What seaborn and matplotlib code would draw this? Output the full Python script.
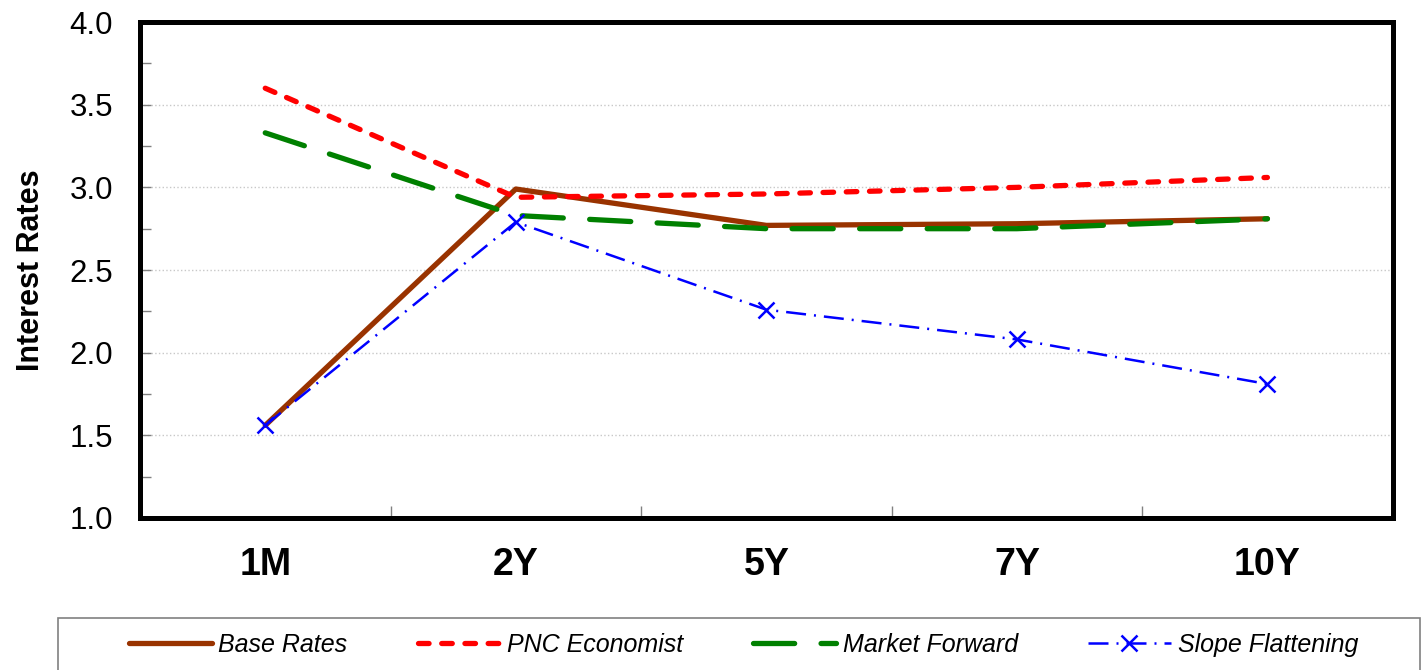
import matplotlib
matplotlib.use("Agg")
import matplotlib.pyplot as plt
from matplotlib.ticker import MultipleLocator, FixedLocator
from matplotlib.patches import Rectangle
import seaborn as sns

categories = ["1M", "2Y", "5Y", "7Y", "10Y"]
base_rates = [1.56, 2.99, 2.77, 2.78, 2.81]
pnc_economist = [3.60, 2.94, 2.96, 3.00, 3.06]
market_forward = [3.33, 2.83, 2.75, 2.75, 2.81]
slope_flattening = [1.56, 2.79, 2.26, 2.08, 1.81]

sns.set_style("white")
plt.rcParams["font.family"] = ["Liberation Sans", "DejaVu Sans"]
plt.rcParams["text.color"] = "black"
plt.rcParams["xtick.color"] = "black"
plt.rcParams["ytick.color"] = "black"
plt.rcParams["axes.labelcolor"] = "black"

fig = plt.figure(figsize=(14.24, 6.70), dpi=100)
ax = fig.add_axes([0.0983, 0.227, 0.8797, 0.740])

x = list(range(len(categories)))

sns.lineplot(x=x, y=base_rates, ax=ax, color="#993300", lw=3.8,
             solid_capstyle="round", label="Base Rates")
l2 = sns.lineplot(x=x, y=pnc_economist, ax=ax, color="#FF0000", lw=3.8,
                  label="PNC Economist").lines[-1]
l2.set_dashes([2.0, 2.4])
l2.set_dash_capstyle("round")
l3 = sns.lineplot(x=x, y=market_forward, ax=ax, color="#008000", lw=3.8,
                  label="Market Forward").lines[-1]
l3.set_dashes([7.8, 5.0])
l3.set_dash_capstyle("round")
l4 = sns.lineplot(x=x, y=slope_flattening, ax=ax, color="#0000FF", lw=1.8,
                  marker="x", markersize=11, markeredgewidth=1.8,
                  markeredgecolor="#0000FF",
                  label="Slope Flattening").lines[-1]
l4.set_dashes([8, 3.2, 0.8, 3.2])

ax.set_xlim(-0.5, 4.5)
ax.set_ylim(1.0, 4.0)
ax.yaxis.set_minor_locator(MultipleLocator(0.25))
yt = [1.0, 1.5, 2.0, 2.5, 3.0, 3.5, 4.0]
ax.set_yticks(yt)
ax.set_yticklabels([f"{v:.1f}" for v in yt])
ax.set_xticks(x)
ax.set_xticklabels(categories, fontsize=27, fontweight="bold")
ax.xaxis.set_minor_locator(FixedLocator([0.5, 1.5, 2.5, 3.5]))
ax.tick_params(axis="y", labelsize=22.5, direction="in", length=8, width=1,
               color="#808080", labelcolor="black", pad=19.5, left=True,
               which="both")
ax.tick_params(axis="x", which="major", length=0, pad=21, labelcolor="black")
ax.tick_params(axis="x", which="minor", direction="in", length=9, width=1,
               color="#808080", bottom=True)
ax.grid(axis="y", which="major", color="#c8c8c8", linestyle=":", linewidth=1)
ax.set_axisbelow(True)
for s in ax.spines.values():
    s.set_visible(True)
    s.set_color("black")
    s.set_linewidth(3.6)
ax.set_ylabel("Interest Rates", fontsize=22, fontweight="bold", labelpad=17,
              color="black")
ax.set_xlabel("")

handles, labels = ax.get_legend_handles_labels()
ax.get_legend().remove()

fig.patches.append(Rectangle((58 / 1424, -0.05), (1420 - 58) / 1424,
                             (670 - 618) / 670 + 0.05,
                             transform=fig.transFigure, fill=False,
                             edgecolor="#808080", linewidth=1.2))

leg = fig.legend(handles, labels, loc="center left", ncol=4,
                 bbox_to_anchor=(129 / 1424, (670 - 645) / 670),
                 frameon=False, prop={"style": "italic", "size": 18},
                 handlelength=3.3, handletextpad=0.28, columnspacing=2.8,
                 borderaxespad=0, borderpad=0)

fig.savefig("out.png", dpi=100)
